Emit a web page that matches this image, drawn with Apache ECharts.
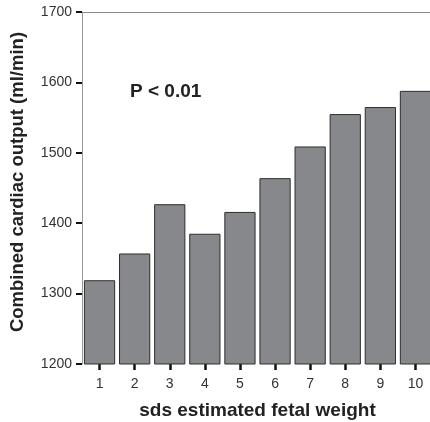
<!DOCTYPE html>
<html>
<head>
<meta charset="utf-8">
<script src="https://cdn.jsdelivr.net/npm/echarts@6/dist/echarts.min.js"></script>
<style>
  html, body { margin: 0; padding: 0; background: #fff; }
  #chart { width: 430px; height: 422px; }
</style>
</head>
<body>
<div id="chart"></div>
<script>
// sds groups of estimated fetal weight
const categories = ['1', '2', '3', '4', '5', '6', '7', '8', '9', '10'];
// combined cardiac output per group (ml/min)
const cardiacOutput = [1319, 1357, 1427, 1385, 1416, 1464, 1509, 1555, 1565, 1588];
const yTicks = { min: 1200, max: 1700, step: 100 };

const font = '"Liberation Sans", Arial, Helvetica, sans-serif';
const chart = echarts.init(document.getElementById('chart'), null, { renderer: 'canvas' });

chart.setOption({
  animation: false,
  grid: { left: 82, top: 12, width: 351, height: 352, containLabel: false, outerBoundsMode: 'none' },
  xAxis: [
    {
      type: 'category',
      data: categories,
      position: 'bottom',
      name: 'sds estimated fetal weight',
      nameLocation: 'middle',
      nameGap: 37,
      nameTextStyle: { fontFamily: font, fontSize: 19, fontWeight: 'bold', color: '#222' },
      axisLine: { show: false },
      axisTick: { show: true, alignWithLabel: true, length: 6, lineStyle: { color: '#111', width: 2.5 } },
      axisLabel: { fontFamily: font, fontSize: 14, color: '#333', margin: 13 },
      splitLine: { show: false }
    },
    {
      type: 'category',
      data: categories,
      position: 'top',
      axisLine: { show: true, lineStyle: { color: '#8a8a8a', width: 1 } },
      axisTick: { show: false },
      axisLabel: { show: false }
    }
  ],
  yAxis: {
    type: 'value',
    min: yTicks.min,
    max: yTicks.max,
    interval: yTicks.step,
    name: 'Combined cardiac output (ml/min)',
    nameLocation: 'middle',
    nameGap: 55,
    nameTextStyle: { fontFamily: font, fontSize: 18.5, fontWeight: 'bold', color: '#222', padding: [0, 0, 0, 12] },
    axisLine: { show: true, lineStyle: { color: '#999', width: 1 } },
    axisTick: { show: true, inside: false, length: 6, lineStyle: { color: '#111', width: 2 } },
    axisLabel: { fontFamily: font, fontSize: 14, color: '#333', margin: 10, formatter: (v) => String(v) },
    splitLine: { show: false }
  },
  series: [{
    type: 'bar',
    data: cardiacOutput,
    barCategoryGap: '11%',
    itemStyle: { color: '#87888c', borderColor: '#2e2e2e', borderWidth: 1 }
  }],
  graphic: [{
    type: 'text',
    left: 130,
    top: 82,
    style: { text: 'P < 0.01', fontFamily: font, fontSize: 19, fontWeight: 'bold', fill: '#222' }
  }]
});
</script>
</body>
</html>
